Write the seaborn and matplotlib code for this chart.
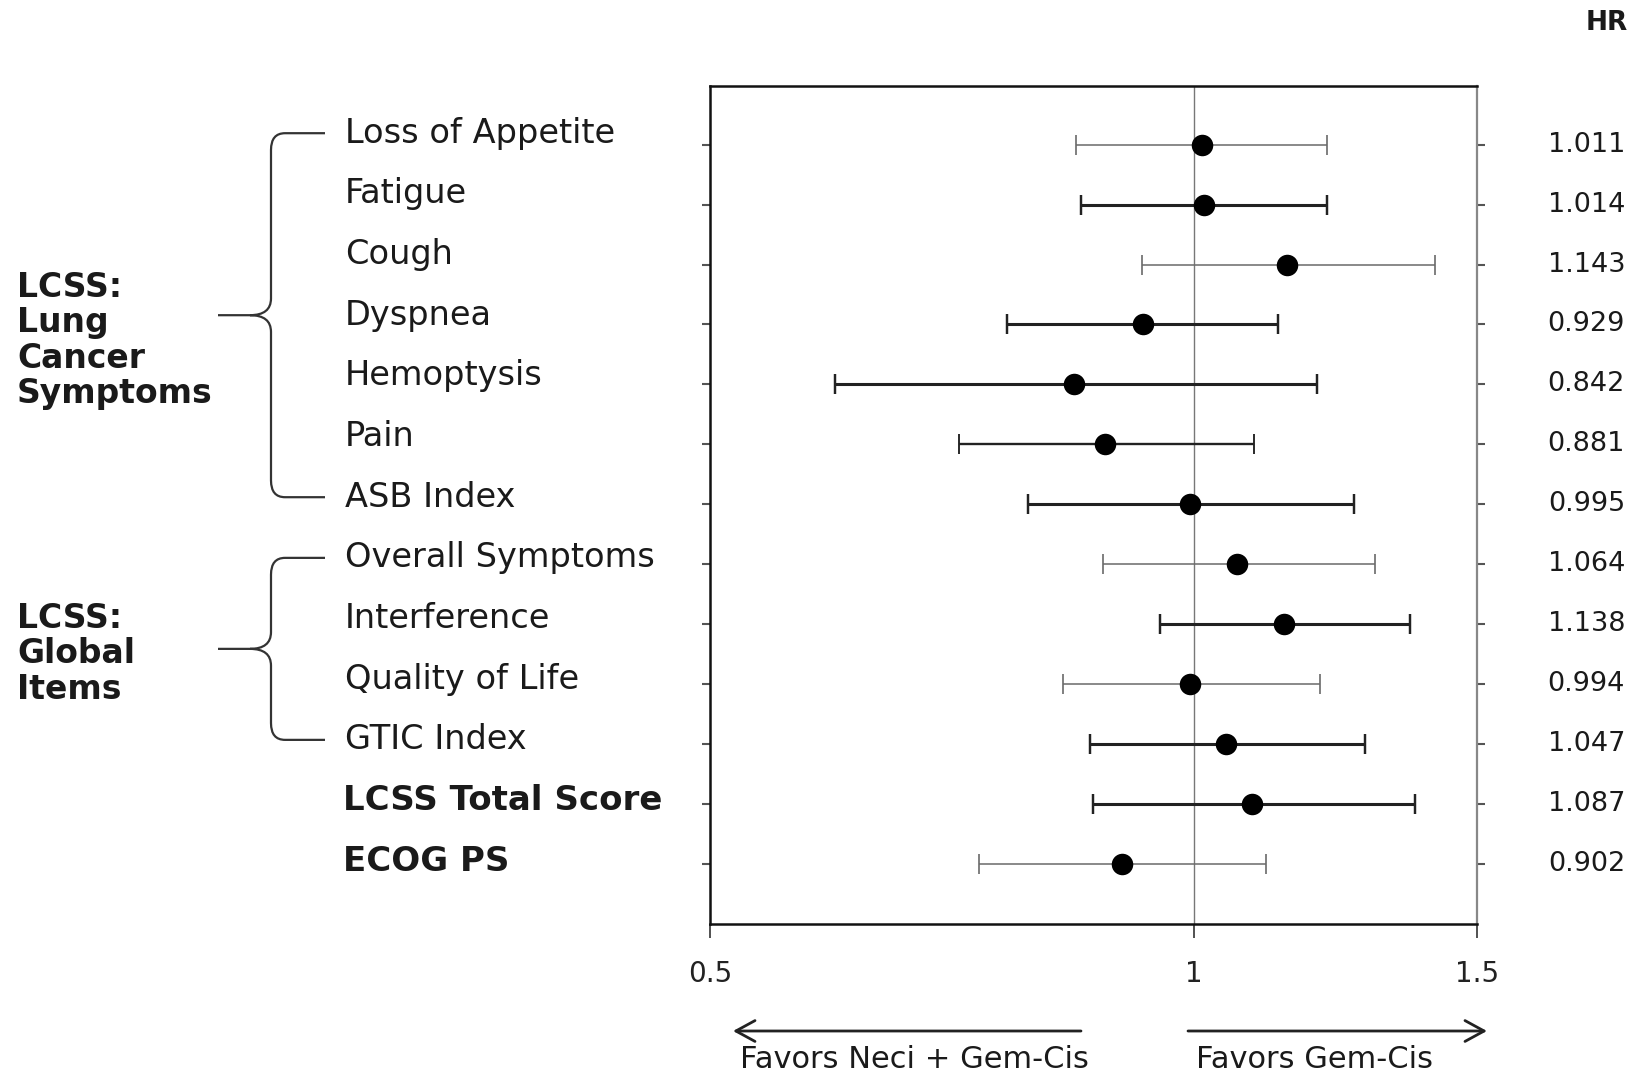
import numpy as np
import pandas as pd
import matplotlib
matplotlib.use("Agg")
import matplotlib.pyplot as plt
import matplotlib.transforms as mtransforms
from matplotlib.path import Path
from matplotlib.patches import PathPatch
import seaborn as sns

# ---------------- data ----------------
labels = ["Loss of Appetite", "Fatigue", "Cough", "Dyspnea", "Hemoptysis", "Pain",
          "ASB Index", "Overall Symptoms", "Interference", "Quality of Life",
          "GTIC Index", "LCSS Total Score", "ECOG PS"]
hr = [1.011, 1.014, 1.143, 0.929, 0.842, 0.881, 0.995, 1.064, 1.138, 0.994,
      1.047, 1.087, 0.902]
ci_low = [0.845, 0.851, 0.928, 0.765, 0.598, 0.714, 0.789, 0.878, 0.953, 0.829,
          0.862, 0.865, 0.735]
ci_high = [1.210, 1.210, 1.413, 1.128, 1.192, 1.090, 1.257, 1.297, 1.363, 1.198,
           1.277, 1.373, 1.108]
hr_text = ["1.011", "1.014", "1.143", "0.929", "0.842", "0.881", "0.995", "1.064",
           "1.138", "0.994", "1.047", "1.087", "0.902"]
bold_labels = ["LCSS Total Score", "ECOG PS"]
group_names = ["LCSS:\nLung\nCancer\nSymptoms", "LCSS:\nGlobal\nItems"]
group_spans = [(0, 6), (7, 10)]
x_ticks = [0.5, 1, 1.5]
x_ticklabels = ["0.5", "1", "1.5"]
left_note = "Favors Neci + Gem-Cis"
right_note = "Favors Gem-Cis"

# styles (line weight per row)
row_lw = [1.1, 2.2, 1.1, 2.2, 2.2, 1.7, 2.2, 1.1, 2.2, 1.1, 2.2, 2.2, 1.1]

df = pd.DataFrame({"label": labels, "hr": hr, "lo": ci_low, "hi": ci_high})
df["row"] = np.arange(len(df))

sns.set_theme(style="white")
plt.rcParams["font.family"] = ["DejaVu Sans"]

W, H = 1642, 1076
fig = plt.figure(figsize=(W / 100, H / 100), dpi=100)
ax = fig.add_axes([710 / W, 1 - 924 / H, (1477 - 710) / W, (924 - 86) / H])

# reference line at HR = 1
ax.axvline(1, color="#777777", lw=1.0, zorder=1)

# confidence intervals
for r, row in df.iterrows():
    thick = row_lw[r] > 1.5
    col = "#222222" if thick else "#6a6a6a"
    ax.errorbar(row["hr"], row["row"],
                xerr=[[row["hr"] - row["lo"]], [row["hi"] - row["hr"]]],
                fmt="none", ecolor=col, elinewidth=row_lw[r],
                capsize=7, capthick=max(1.2, row_lw[r] * 0.8), zorder=2)

# point estimates
sns.scatterplot(data=df, x="hr", y="row", s=240, color="black",
                edgecolor="black", linewidth=0, marker="o", ax=ax, zorder=3,
                legend=False)

ax.set_xscale("log")
ax.set_xlim(0.5, 1.5)
ax.set_ylim(13.01, -0.98)
ax.set_xticks(x_ticks)
ax.set_xticklabels(x_ticklabels)
ax.xaxis.set_minor_locator(matplotlib.ticker.NullLocator())
ax.set_yticks(df["row"])
ax.set_yticklabels([])
ax.set_xlabel("")
ax.set_ylabel("")
ax.tick_params(axis="x", which="major", direction="out", length=10, width=1.2,
               color="#333333", pad=16, labelsize=20, labelcolor="#222222",
               bottom=True)
ax.tick_params(axis="y", which="major", direction="out", length=6, width=1.5,
               color="#555555", left=True, right=True)
for side in ["left", "top", "bottom"]:
    ax.spines[side].set_color("#111111")
    ax.spines[side].set_linewidth(1.8)
ax.spines["right"].set_color("#888888")
ax.spines["right"].set_linewidth(1.6)
ax.grid(False)

# row labels
tr = mtransforms.blended_transform_factory(fig.transFigure, ax.transData)
label_y = lambda i: -0.192 + 1.0128 * i
for i, lab in enumerate(labels):
    is_bold = lab in bold_labels
    ax.text((343 if is_bold else 345) / W, label_y(i), lab, transform=tr,
            ha="left", va="center",
            fontsize=24.5 if is_bold else 24.2, color="#1a1a1a",
            fontweight="bold" if is_bold else "normal",
            clip_on=False)

# HR values
for i, t in enumerate(hr_text):
    ax.text(1625 / W, i, t, transform=tr, ha="right", va="center",
            fontsize=19.5, color="#1a1a1a", clip_on=False)
fig.text(1628 / W, 1 - 23 / H, "HR", ha="right", va="center", fontsize=19,
         fontweight="bold", color="#1a1a1a")

# group labels and braces
group_centers = [3.27, 8.50]
for name, (a, b), gc in zip(group_names, group_spans, group_centers):
    ax.text(17 / W, gc, name, transform=tr, ha="left", va="center",
            fontsize=23.8, fontweight="bold", color="#1a1a1a",
            linespacing=1.1, clip_on=False)
    top, bot = label_y(a), label_y(b)
    mid = (top + bot) / 2
    xa, xv, xt = 325 / W, 271 / W, 218 / W
    dx, dy = 14 / W, 0.28
    verts = [(xa, top), (xv + dx, top), (xv, top), (xv, top + dy),
             (xv, mid - dy), (xv, mid), (xv - dx * 1.5, mid), (xt, mid),
             (xv - dx * 1.5, mid), (xv, mid), (xv, mid + dy),
             (xv, bot - dy), (xv, bot), (xv + dx, bot), (xa, bot)]
    codes = [Path.MOVETO, Path.LINETO, Path.CURVE3, Path.CURVE3,
             Path.LINETO, Path.CURVE3, Path.CURVE3, Path.LINETO,
             Path.MOVETO, Path.CURVE3, Path.CURVE3,
             Path.LINETO, Path.CURVE3, Path.CURVE3, Path.LINETO]
    patch = PathPatch(Path(verts, codes), transform=tr, fill=False,
                      edgecolor="#333333", lw=1.6, clip_on=False)
    ax.add_patch(patch)

# direction arrows
ya = 1 - 1031 / H
arrow_props = dict(arrowstyle="->,head_length=0.55,head_width=0.3",
                   lw=2.0, color="#222222", mutation_scale=25,
                   shrinkA=0, shrinkB=0)
ax.annotate("", xy=(733 / W, ya), xytext=(1081 / W, ya),
            xycoords="figure fraction", textcoords="figure fraction",
            arrowprops=arrow_props)
ax.annotate("", xy=(1487 / W, ya), xytext=(1188 / W, ya),
            xycoords="figure fraction", textcoords="figure fraction",
            arrowprops=arrow_props)
fig.text(914 / W, 1 - 1060 / H, left_note, ha="center", va="center",
         fontsize=22, color="#1a1a1a")
fig.text(1314 / W, 1 - 1060 / H, right_note, ha="center", va="center",
         fontsize=22, color="#1a1a1a")

fig.savefig("out.png", dpi=100, facecolor="white")
